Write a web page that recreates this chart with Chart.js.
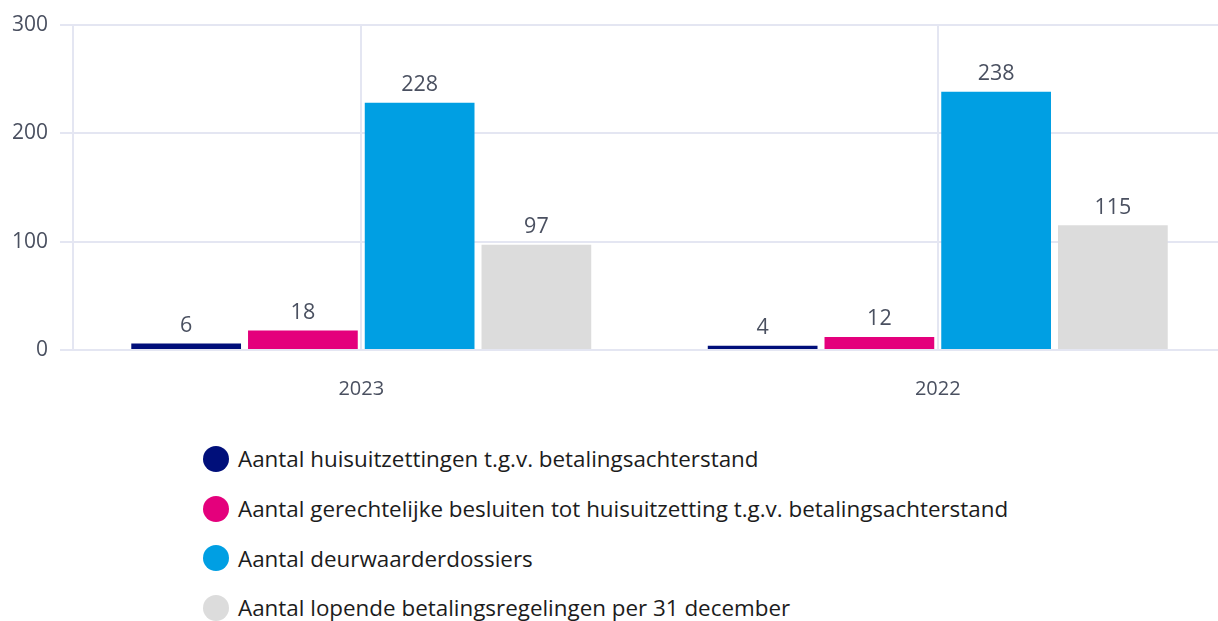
<!DOCTYPE html>
<html>
<head>
<meta charset="utf-8">
<script src="https://cdn.jsdelivr.net/npm/chart.js@4"></script>
<style>
  html, body { margin: 0; padding: 0; background: #fff; overflow: hidden; width: 1218px; height: 621px; }
  #wrap { position: absolute; left: 0; top: 0; width: 1226px; height: 428px; }
  #legend { position: absolute; left: 203px; top: 434px; font-family: "Open Sans", sans-serif; font-size: 22.4px; color: #1c1c1c; }
  .item { display: flex; align-items: center; height: 49.7px; white-space: nowrap; }
  .dot { width: 26px; height: 26px; border-radius: 50%; margin-right: 9px; flex: none; }
</style>
</head>
<body>
<div id="wrap"><canvas id="c"></canvas></div>
<div id="legend"></div>
<script>
const categories = ["2023", "2022"];
const seriesNames = [
  "Aantal huisuitzettingen t.g.v. betalingsachterstand",
  "Aantal gerechtelijke besluiten tot huisuitzetting t.g.v. betalingsachterstand",
  "Aantal deurwaarderdossiers",
  "Aantal lopende betalingsregelingen per 31 december"
];
const huisuitzettingen = [6, 4];
const gerechtelijkeBesluiten = [18, 12];
const deurwaarderdossiers = [228, 238];
const betalingsregelingen = [97, 115];
const yTicks = [0, 100, 200, 300];
const colors = ["#000f7a", "#e4007c", "#009fe3", "#dcdcdc"];

const seriesValues = [huisuitzettingen, gerechtelijkeBesluiten, deurwaarderdossiers, betalingsregelingen];

const valueLabels = {
  id: "valueLabels",
  afterDatasetsDraw(chart) {
    const ctx = chart.ctx;
    ctx.save();
    ctx.font = "21.5px 'Open Sans'";
    ctx.fillStyle = "#4a5060";
    ctx.textAlign = "center";
    ctx.textBaseline = "bottom";
    chart.data.datasets.forEach((ds, i) => {
      const meta = chart.getDatasetMeta(i);
      meta.data.forEach((bar, j) => {
        ctx.fillText(String(ds.data[j]), bar.x, bar.y - 7);
      });
    });
    ctx.restore();
  }
};

new Chart(document.getElementById("c"), {
  type: "bar",
  data: {
    labels: categories,
    datasets: seriesNames.map((n, i) => ({
      label: n,
      data: seriesValues[i],
      backgroundColor: colors[i],
      borderWidth: 0,
      categoryPercentage: 0.81,
      barPercentage: 0.94
    }))
  },
  options: {
    responsive: true,
    maintainAspectRatio: false,
    animation: false,
    layout: { padding: { top: 9, left: 0, right: 0, bottom: 0 } },
    plugins: { legend: { display: false }, tooltip: { enabled: false } },
    scales: {
      x: {
        grid: { offset: false, color: "#e4e6f2", lineWidth: 2, drawTicks: false },
        border: { display: false },
        ticks: { color: "#4a5060", font: { family: "Open Sans", size: 20 }, padding: 27 }
      },
      y: {
        min: 0, max: 300,
        afterBuildTicks(axis) { axis.ticks = yTicks.map(v => ({ value: v })); },
        grid: { color: "#e4e6f2", lineWidth: 2, tickLength: 13 },
        border: { color: "#e4e6f2", width: 2 },
        ticks: { color: "#4a5060", font: { family: "Open Sans", size: 21 }, padding: 12 }
      }
    }
  },
  plugins: [valueLabels]
});

const legend = document.getElementById("legend");
seriesNames.forEach((n, i) => {
  const it = document.createElement("div");
  it.className = "item";
  const d = document.createElement("span");
  d.className = "dot";
  d.style.background = colors[i];
  const t = document.createElement("span");
  t.textContent = n;
  it.appendChild(d); it.appendChild(t);
  legend.appendChild(it);
});
</script>
</body>
</html>
